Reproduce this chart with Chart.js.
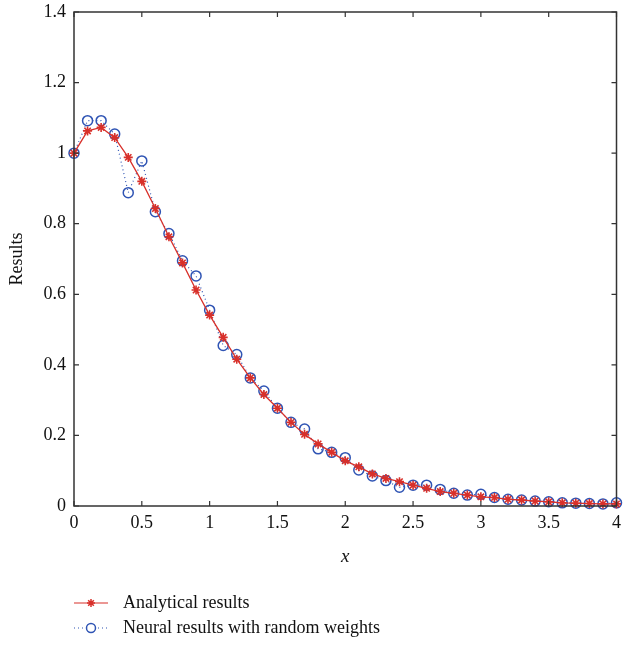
<!DOCTYPE html>
<html>
<head>
<meta charset="utf-8">
<script src="https://cdn.jsdelivr.net/npm/chart.js@4.4.1/dist/chart.umd.min.js"></script>
<style>
  html, body { margin: 0; padding: 0; background: #fff; }
  #wrap { width: 623px; height: 646px; position: relative; }
</style>
</head>
<body>
<div id="wrap"><canvas id="chart"></canvas></div>
<script>
// --- Data ---
const xValues = [0, 0.1, 0.2, 0.3, 0.4, 0.5, 0.6, 0.7, 0.8, 0.9, 1.0, 1.1, 1.2, 1.3, 1.4, 1.5, 1.6, 1.7, 1.8, 1.9, 2.0,
  2.1, 2.2, 2.3, 2.4, 2.5, 2.6, 2.7, 2.8, 2.9, 3.0, 3.1, 3.2, 3.3, 3.4, 3.5, 3.6, 3.7, 3.8, 3.9, 4.0];

const analytical = [1.0, 1.063, 1.073, 1.044, 0.988, 0.920, 0.843, 0.763, 0.689, 0.612, 0.541,
  0.478, 0.416, 0.363, 0.316, 0.277, 0.237, 0.203, 0.176, 0.152, 0.128,
  0.111, 0.091, 0.078, 0.069, 0.059, 0.050, 0.041, 0.036, 0.031, 0.026,
  0.024, 0.019, 0.017, 0.014, 0.012, 0.009, 0.008, 0.007, 0.006, 0.006];

const neural = [1.0, 1.092, 1.092, 1.054, 0.888, 0.978, 0.834, 0.772, 0.695, 0.652, 0.555,
  0.455, 0.429, 0.363, 0.326, 0.277, 0.237, 0.218, 0.162, 0.152, 0.137,
  0.102, 0.085, 0.072, 0.053, 0.059, 0.059, 0.047, 0.036, 0.031, 0.033,
  0.024, 0.019, 0.017, 0.014, 0.012, 0.009, 0.008, 0.007, 0.006, 0.009];

const xTicks = [0, 0.5, 1, 1.5, 2, 2.5, 3, 3.5, 4];
const yTicks = [0, 0.2, 0.4, 0.6, 0.8, 1.0, 1.2, 1.4];

const RED = '#d8302a';
const BLUE = '#2f54b4';
const FONT = 'Liberation Serif, DejaVu Serif, serif';

// --- Box + inward ticks on all four sides ---
const boxPlugin = {
  id: 'box',
  afterDraw(chart) {
    const { ctx, chartArea: a, scales } = chart;
    const len = 5;
    ctx.save();
    ctx.strokeStyle = '#333';
    ctx.lineWidth = 1.5;
    ctx.strokeRect(a.left, a.top, a.right - a.left, a.bottom - a.top);
    ctx.lineWidth = 1.2;
    ctx.beginPath();
    xTicks.forEach(v => {
      const px = scales.x.getPixelForValue(v);
      ctx.moveTo(px, a.bottom); ctx.lineTo(px, a.bottom - len);
      ctx.moveTo(px, a.top); ctx.lineTo(px, a.top + len);
    });
    yTicks.forEach(v => {
      const py = scales.y.getPixelForValue(v);
      ctx.moveTo(a.left, py); ctx.lineTo(a.left + len, py);
      ctx.moveTo(a.right, py); ctx.lineTo(a.right - len, py);
    });
    ctx.stroke();
    ctx.restore();
  }
};

// --- Legend drawn below the axis ---
const legendPlugin = {
  id: 'legendBelow',
  afterDraw(chart) {
    const { ctx } = chart;
    const x0 = 74, x1 = 108, xm = 91, xt = 123;
    const rows = [
      { y: 603, text: 'Analytical results', color: RED, dash: [], style: 'star', r: 4 },
      { y: 628, text: 'Neural results with random weights', color: BLUE, dash: [1, 3], style: 'circle', r: 4.5 }
    ];
    ctx.save();
    rows.forEach(r => {
      ctx.strokeStyle = r.color;
      ctx.fillStyle = '#fff';
      ctx.lineWidth = 1.2;
      ctx.setLineDash(r.dash);
      ctx.beginPath();
      ctx.moveTo(x0, r.y); ctx.lineTo(x1, r.y);
      ctx.stroke();
      ctx.setLineDash([]);
      ctx.lineWidth = 1.5;
      Chart.helpers.drawPoint(ctx, {
        pointStyle: r.style, radius: r.r, rotation: 0, borderWidth: 1.5
      }, xm, r.y);
      ctx.fillStyle = '#111';
      ctx.font = '18px ' + FONT;
      ctx.textBaseline = 'middle';
      ctx.fillText(r.text, xt, r.y);
    });
    ctx.restore();
  }
};

new Chart(document.getElementById('chart'), {
  type: 'line',
  data: {
    datasets: [
      {
        label: 'Analytical results',
        data: xValues.map((x, i) => ({ x, y: analytical[i] })),
        borderColor: RED,
        backgroundColor: RED,
        borderWidth: 1.3,
        pointStyle: 'star',
        pointRadius: 4.5,
        pointBorderWidth: 1.6,
        pointBorderColor: RED,
        tension: 0,
        clip: false
      },
      {
        label: 'Neural results with random weights',
        data: xValues.map((x, i) => ({ x, y: neural[i] })),
        borderColor: BLUE,
        backgroundColor: 'rgba(0,0,0,0)',
        borderWidth: 1.2,
        borderDash: [1, 3],
        pointStyle: 'circle',
        pointRadius: 5,
        pointBorderWidth: 1.5,
        pointBorderColor: BLUE,
        tension: 0,
        clip: false
      }
    ]
  },
  options: {
    responsive: true,
    maintainAspectRatio: false,
    animation: false,
    layout: { padding: { top: 12, right: 6, left: 0, bottom: 80 } },
    plugins: { legend: { display: false }, tooltip: { enabled: false } },
    scales: {
      x: {
        type: 'linear',
        min: 0, max: 4,
        afterBuildTicks: s => { s.ticks = xTicks.map(v => ({ value: v })); },
        afterFit: s => { s.height = 60; s.paddingLeft = 0; s.paddingRight = 0; },
        grid: { display: false, drawTicks: false },
        border: { display: false },
        ticks: { color: '#111', font: { family: FONT, size: 18 }, padding: 6, maxRotation: 0, callback: v => String(+v.toFixed(1)) },
        title: { display: true, text: 'x', color: '#111', font: { family: FONT, size: 19, style: 'italic' }, padding: { top: 14, bottom: -2 } }
      },
      y: {
        type: 'linear',
        min: 0, max: 1.4,
        afterBuildTicks: s => { s.ticks = yTicks.map(v => ({ value: v })); },
        afterFit: s => { s.width = 74; s.paddingTop = 0; s.paddingBottom = 0; },
        grid: { display: false, drawTicks: false },
        border: { display: false },
        ticks: { color: '#111', font: { family: FONT, size: 18 }, padding: 8, callback: v => String(+v.toFixed(1)) },
        title: { display: true, text: 'Results', color: '#111', font: { family: FONT, size: 18 }, padding: { top: 6, bottom: 2 } }
      }
    }
  },
  plugins: [boxPlugin, legendPlugin]
});
</script>
</body>
</html>
